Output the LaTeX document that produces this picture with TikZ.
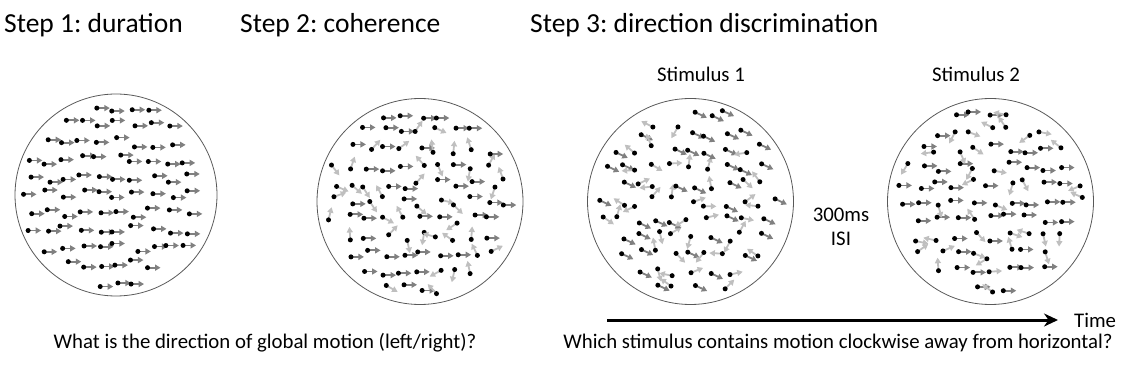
\documentclass[tikz,border=0pt]{standalone}
\usepackage{fontspec}
\setmainfont{Carlito}
\usetikzlibrary{arrows.meta, positioning}
\frenchspacing

\begin{document}
\begin{tikzpicture}[
  x=1pt, y=1pt,
  field/.style={draw=black!65, line width=0.8pt, circle, inner sep=0pt},
  heading/.style={font=\fontsize{27.5}{33}\selectfont, anchor=base west, inner sep=0pt},
  stimtext/.style={font=\fontsize{20.8}{24}\selectfont, inner sep=0pt},
  sig/.style={draw=black!50, line width=1.8pt, -{Triangle[length=5.5pt, width=6pt]}},
  noise/.style={draw=black!25, line width=1.8pt, -{Triangle[length=5.5pt, width=6pt]}},
  timearr/.style={line width=3pt, -{Stealth[length=14pt, width=13pt]}}
]
\useasboundingbox (0,0) rectangle (1130,378);

% Headings
\node[heading] (head1) at (4,345) {Step 1: duration};
\node[heading] (head2) at (240,345) {Step 2: coherence};
\node[heading] (head3) at (530,345) {Step 3: direction discrimination};

% Apertures
\node[field, minimum size=202pt] (dur) at (116,183) {};
\node[field, minimum size=206pt] (coh) at (420,176.5) {};
\node[field, minimum size=206pt] (stimA) at (690.5,176.5) {};
\node[field, minimum size=206pt] (stimB) at (990.5,176.5) {};

% Dots: x/y/seed/coherence/signal angle
\foreach \cx/\cy/\seed/\coh/\ang in {116/183/4/1/0, 420/176.5/12/0.5/0, 690.5/176.5/21/0.5/-25, 990.5/176.5/33/0.5/0}{
  \pgfmathsetseed{\seed}
  \begin{scope}[shift={(\cx,\cy)}]
  \foreach \i in {-6,...,6}{
    \foreach \j in {-6,...,6}{
      \pgfmathsetmacro\px{\i*17.5+5*rand}
      \pgfmathsetmacro\py{\j*17.5+5*rand}
      \pgfmathsetmacro\pick{rnd}
      \pgfmathtruncatemacro\issig{\pick<\coh}
      \pgfmathsetmacro\a{\issig==1 ? \ang : 360*rnd}
      \pgfmathtruncatemacro\inside{and((\px/10)^2+(\py/10)^2<94, ((\px+13*cos(\a))/10)^2+((\py+13*sin(\a))/10)^2<94)}
      \ifnum\inside=1
        \ifnum\issig=1
          \draw[sig] (\px,\py) -- ++(\a:13);
        \else
          \draw[noise] (\px,\py) -- ++(\a:13);
        \fi
        \fill (\px,\py) circle (2.5);
      \fi
    }
  }
  \end{scope}
}

% Step 3 labels
\node[stimtext] (labA) at (701,304) {Stimulus 1};
\node[stimtext] (labB) at (976,304) {Stimulus 2};
\node[stimtext, align=center] (isi) at (841,151) {300ms\\ISI};

% Time axis
\coordinate (t0) at (607,58);
\coordinate (t1) at (1058,58);
\draw[timearr] (t0) -- (t1);
\node[stimtext, right=16pt of t1] (time) {Time};

% Questions
\node[stimtext, anchor=base] (q1) at (265,30) {What is the direction of global motion (left/right)?};
\node[stimtext, anchor=base] (q2) at (838,30) {Which stimulus contains motion clockwise away from horizontal?};

\end{tikzpicture}
\end{document}
